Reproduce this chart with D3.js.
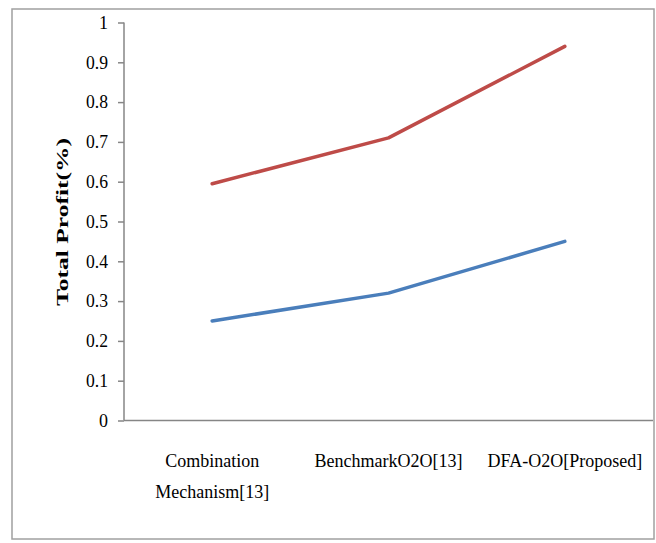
<!doctype html>
<html lang="en">
<head>
<meta charset="utf-8">
<style>
body { margin: 0; background: #fff; }
svg { display: block; font-family: "Liberation Serif", "Times New Roman", serif; }
.axis path, .axis line { stroke: #868686; stroke-width: 1.5; fill: none; }
.series { fill: none; stroke-width: 3.5; stroke-linejoin: round; stroke-linecap: round; }
</style>
</head>
<body>
<script src="https://d3js.org/d3.v7.min.js"></script>
<script>
// categories and values
var categories = ["Combination Mechanism[13]", "BenchmarkO2O[13]", "DFA-O2O[Proposed]"];
var catLines = [["Combination", "Mechanism[13]"], ["BenchmarkO2O[13]"], ["DFA-O2O[Proposed]"]];
var redValues = [0.595, 0.71, 0.94];
var blueValues = [0.25, 0.32, 0.45];
var yTicks = [0, 0.1, 0.2, 0.3, 0.4, 0.5, 0.6, 0.7, 0.8, 0.9, 1];

var serif = "'Liberation Serif', 'Times New Roman', serif";
var W = 656, H = 543;
var margin = {top: 22.5, right: 3, bottom: 122.5, left: 124};
var width = W - margin.left - margin.right,
    height = H - margin.top - margin.bottom;

var svg = d3.select("body").append("svg")
    .attr("width", W)
    .attr("height", H);

// outer frame
svg.append("rect")
    .attr("x", 12).attr("y", 9)
    .attr("width", 642).attr("height", 530)
    .attr("fill", "none")
    .attr("stroke", "#a0a0a0")
    .attr("stroke-width", 1.5);

var g = svg.append("g")
    .attr("transform", "translate(" + margin.left + "," + margin.top + ")");

var x = d3.scaleBand().domain(categories).range([0, width]);
var y = d3.scaleLinear().domain([0, 1]).range([height, 0]);

// y axis
var yAxis = g.append("g")
    .attr("class", "axis")
    .call(d3.axisLeft(y).tickValues(yTicks).tickSize(6).tickPadding(10)
        .tickFormat(function(d) { return d3.format("")(+d.toFixed(1)); }));
yAxis.attr("font-family", serif).attr("font-size", 18);
yAxis.select(".domain").attr("d", "M0," + height + "V0");
yAxis.selectAll(".tick text")
    .style("font-family", serif)
    .style("font-size", "18px")
    .attr("fill", "#000")
    .attr("textLength", function(d) { return d === 0 || d === 1 ? null : 22; })
    .attr("lengthAdjust", "spacingAndGlyphs");

// x axis (no ticks)
g.append("line")
    .attr("x1", 0).attr("x2", width)
    .attr("y1", height).attr("y2", height)
    .attr("stroke", "#868686").attr("stroke-width", 1.5);

// category labels
categories.forEach(function(c, i) {
  var t = g.append("text")
      .attr("text-anchor", "middle")
      .style("font-family", serif)
      .attr("font-size", "18px")
      .attr("x", x(c) + x.bandwidth() / 2)
      .attr("y", height + 46);
  catLines[i].forEach(function(s, j) {
    t.append("tspan")
      .attr("x", x(c) + x.bandwidth() / 2)
      .attr("dy", j === 0 ? 0 : 31)
      .text(s);
  });
});

var line = d3.line()
    .x(function(d, i) { return x(categories[i]) + x.bandwidth() / 2; })
    .y(function(d) { return y(d); });

g.append("path").datum(redValues)
    .attr("class", "series")
    .attr("stroke", "#be4b48")
    .attr("d", line);

g.append("path").datum(blueValues)
    .attr("class", "series")
    .attr("stroke", "#4a7ebb")
    .attr("d", line);

// y axis title
svg.append("text")
    .attr("transform", "translate(68,222) rotate(-90)")
    .attr("text-anchor", "middle")
    .style("font-family", serif)
    .attr("font-weight", "bold")
    .attr("font-size", "17px")
    .attr("textLength", 168)
    .attr("lengthAdjust", "spacingAndGlyphs")
    .text("Total Profit(%)");
</script>
</body>
</html>
